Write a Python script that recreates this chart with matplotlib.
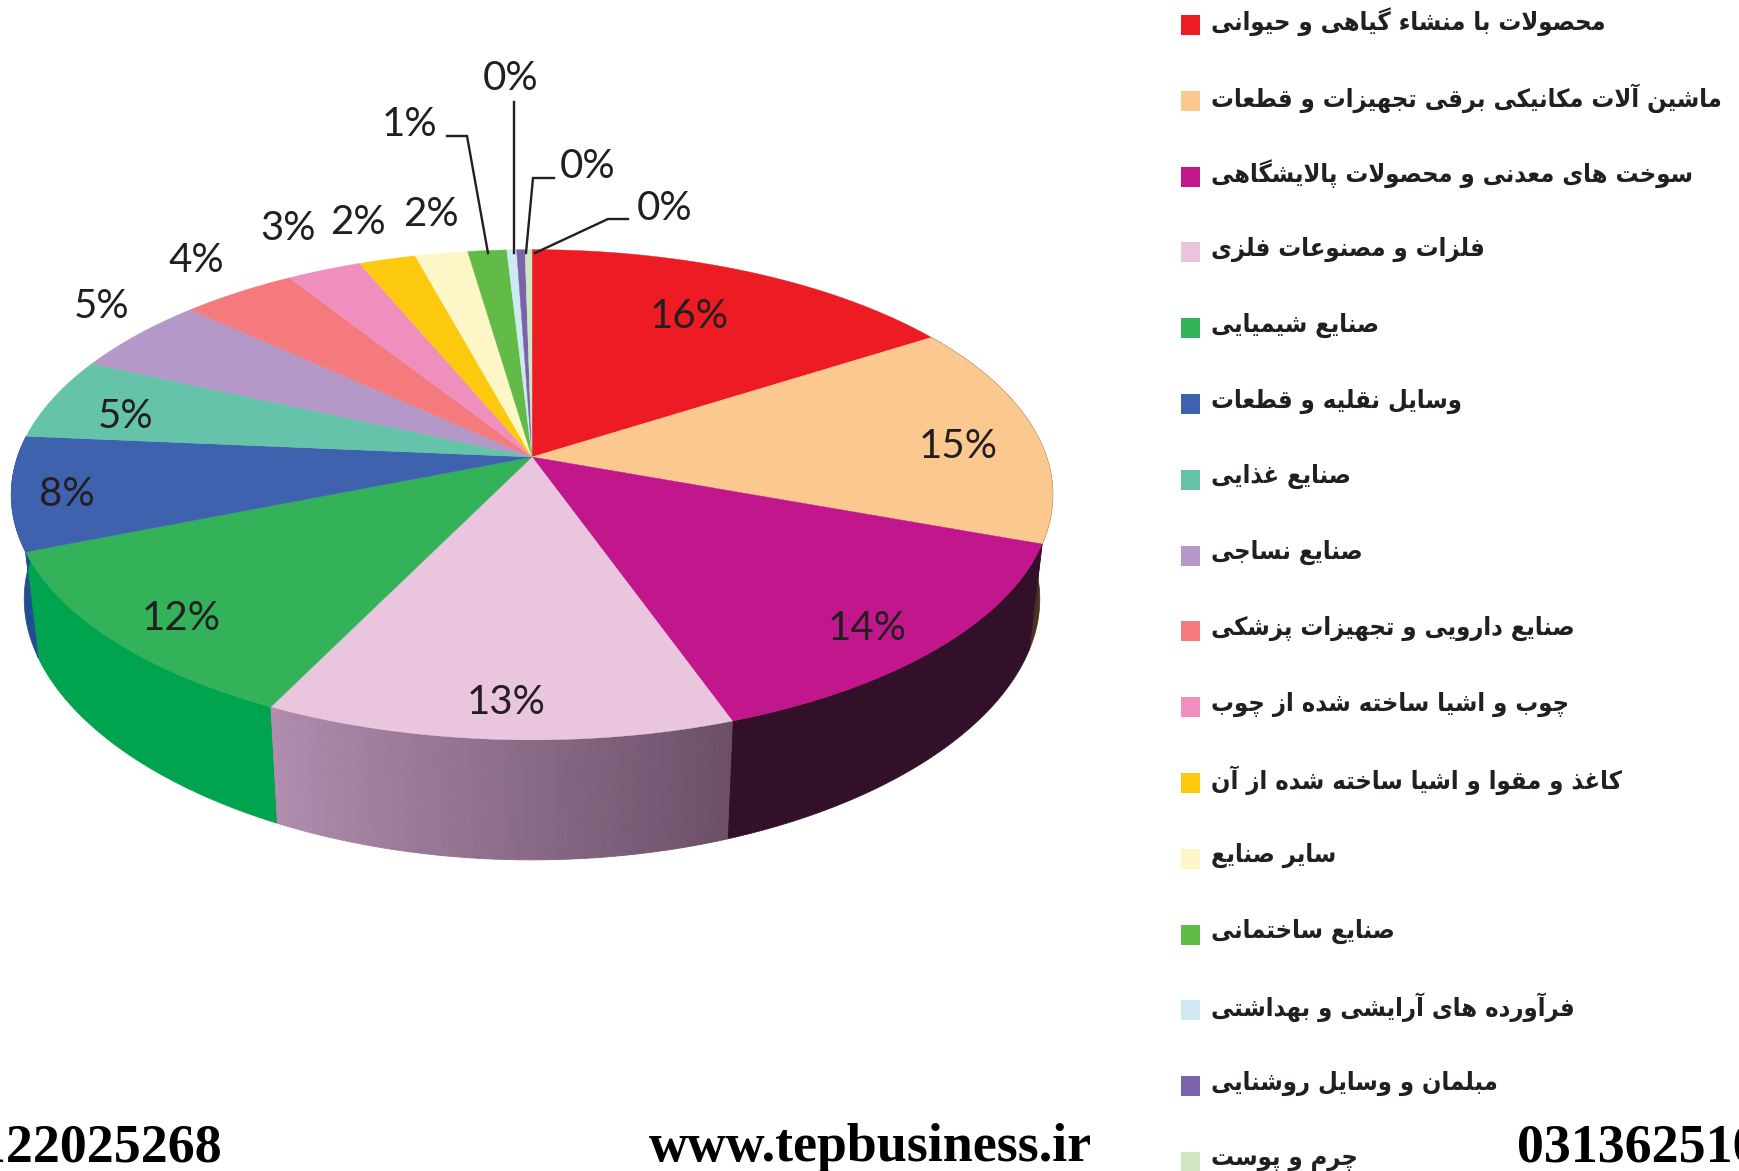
import numpy as np
import matplotlib
matplotlib.use('Agg')
import matplotlib.pyplot as plt
from matplotlib.patches import Rectangle

# slice values, clockwise from the top
values = [15.9, 14.7, 14.0, 12.6, 11.7, 7.5, 5.4, 5.1, 4.15, 2.7, 2.05, 1.9, 1.4, 0.35, 0.3, 0.25]
percent_labels = ['16%', '15%', '14%', '13%', '12%', '8%', '5%', '5%', '4%', '3%', '2%', '2%', '1%', '0%', '0%', '0%']
categories = ['محصولات با منشاء گیاهی و حیوانی',
              'ماشین آلات مکانیکی برقی تجهیزات و قطعات',
              'سوخت های معدنی و محصولات پالایشگاهی',
              'فلزات و مصنوعات فلزی',
              'صنایع شیمیایی',
              'وسایل نقلیه و قطعات',
              'صنایع غذایی',
              'صنایع نساجی',
              'صنایع دارویی و تجهیزات پزشکی',
              'چوب و اشیا ساخته شده از چوب',
              'کاغذ و مقوا و اشیا ساخته شده از آن',
              'سایر صنایع',
              'صنایع ساختمانی',
              'فرآورده های آرایشی و بهداشتی',
              'مبلمان و وسایل روشنایی',
              'چرم و پوست']
colors = ['#ed1c24', '#fbc990', '#c2168c', '#eac6de', '#33b25a', '#3f62ae', '#65c3a9', '#b398c8',
          '#f47a7e', '#f08fbe', '#fdc90f', '#fdf6c6', '#62bb46', '#cfe9f1', '#7c62a9', '#cfe6c0']
wall_colors = {1: '#4a3320', 2: '#33102a', 4: '#00a44f', 5: '#1f4f8f'}

# label centres in image pixels
label_x = [689, 958, 867, 506, 181, 67, 126, 102, 196, 288, 358, 431, 410, 511, 588, 665]
label_y = [317, 446, 628, 702, 618, 495, 416, 306, 261, 229, 222, 215, 124, 78, 166, 208]
leaders = {12: ([447, 467, 488], [136, 136, 253]),
           13: ([514, 514], [102, 253]),
           14: ([554, 533, 526], [178, 178, 253]),
           15: ([628, 608, 535], [219, 219, 253])}

# pie geometry, perspective squash of the unit disc
cx, cy = 532., 457.
rx, ry = 514.6, 239.3
persp = 0.154
wall_top, wall_curve = 104., 0.0002
wall_narrow = 0.975

dual = {'ب': 0xFE8F, 'ت': 0xFE95, 'ث': 0xFE99, 'ج': 0xFE9D, 'ح': 0xFEA1, 'خ': 0xFEA5, 'س': 0xFEB1,
        'ش': 0xFEB5, 'ص': 0xFEB9, 'ض': 0xFEBD, 'ط': 0xFEC1, 'ظ': 0xFEC5, 'ع': 0xFEC9, 'غ': 0xFECD,
        'ف': 0xFED1, 'ق': 0xFED5, 'ل': 0xFEDD, 'م': 0xFEE1, 'ن': 0xFEE5, 'ه': 0xFEE9,
        'پ': 0xFB56, 'چ': 0xFB7A, 'ک': 0xFB8E, 'گ': 0xFB92, 'ی': 0xFBFC}
right_only = {'ا': 0xFE8D, 'آ': 0xFE81, 'د': 0xFEA9, 'ذ': 0xFEAB, 'ر': 0xFEAD, 'ز': 0xFEAF,
              'ژ': 0xFB8A, 'و': 0xFEED}

def shape(s):
    # matplotlib does no arabic shaping, so pick the joined forms by hand
    s = s.replace('لا', '\uFFF0').replace('لآ', '\uFFF1')
    out = []
    for i, c in enumerate(s):
        before = s[i - 1] if i > 0 else ' '
        after = s[i + 1] if i < len(s) - 1 else ' '
        joins_prev = before in dual
        joins_next = after in dual or after in right_only or after in '\uFFF0\uFFF1'
        if c == '\uFFF0':
            out.append(chr(0xFEFC if joins_prev else 0xFEFB))
        elif c == '\uFFF1':
            out.append(chr(0xFEF6 if joins_prev else 0xFEF5))
        elif c in dual:
            form = {(0, 0): 0, (1, 0): 1, (0, 1): 2, (1, 1): 3}[(int(joins_prev), int(joins_next))]
            out.append(chr(dual[c] + form))
        elif c in right_only:
            out.append(chr(right_only[c] + (1 if joins_prev else 0)))
        elif c == 'ء':
            out.append(chr(0xFE80))
        else:
            out.append(c)
    return ''.join(out[::-1])

def rim(a):
    u, v = np.sin(a), np.cos(a)
    den = 1 + persp * v
    return cx + rx * u / den, cy - ry * v / den

def wall(x, y):
    xb = cx + (x - cx) * wall_narrow
    yb = y + wall_top + wall_curve * (y - cy) ** 2
    return np.r_[x, xb[::-1]], np.r_[y, yb[::-1]]

plt.rc('font', **{'family': 'sans-serif', 'sans-serif': ['Lato', 'DejaVu Sans'], 'size': 10})
fig = plt.figure(figsize = (17.39, 11.71), dpi = 100)
ax = fig.add_axes([0, 0, 1, 1])
ax.set_xlim(0, 1739)
ax.set_ylim(1171, 0)
ax.axis('off')

edges = np.cumsum([0] + values) / sum(values) * 2 * np.pi

# side walls first, the top faces cover the back ones
for i, col in wall_colors.items():
    x, y = rim(np.linspace(edges[i], edges[i + 1], 80))
    ax.fill(*wall(x, y), color = col, lw = 0.5)

# pale pink wall has a gradient
a = np.linspace(edges[3], edges[4], 121)
c0, c1 = np.array([0.42, 0.31, 0.41]), np.array([0.69, 0.55, 0.68])
for j in range(len(a) - 1):
    x, y = rim(a[j:j + 2])
    col = c0 + (c1 - c0) * j / (len(a) - 2)
    ax.fill(*wall(x, y), color = col, lw = 0.6)

# top faces
for i, col in enumerate(colors):
    a = np.linspace(edges[i], edges[i + 1], max(4, int(values[i] * 8)))
    x, y = rim(a)
    ax.fill(np.r_[cx, x], np.r_[cy, y], color = col, lw = 0.3)

for i, lab in enumerate(percent_labels):
    ax.text(label_x[i], label_y[i], lab, ha = 'center', va = 'center', fontsize = 29, color = '#231f20')

for i, (lx, ly) in leaders.items():
    ax.plot(lx, ly, color = '#231f20', lw = 1.7, solid_joinstyle = 'miter')

# legend
leg_y = 25 + 75.8 * np.arange(len(categories))
for i, name in enumerate(categories):
    ax.add_patch(Rectangle((1181, leg_y[i] - 10), 19, 20, color = colors[i], lw = 0))
    ax.text(1211, leg_y[i] - 3, shape(name), ha = 'left', va = 'center', fontsize = 18.3, color = '#231f20',
            family = 'DejaVu Sans', stretch = 'condensed', fontweight = 'bold')

# footer
foot = dict(family = 'Liberation Serif', fontweight = 'bold', fontsize = 38.8, color = 'k', va = 'baseline')
ax.text(222, 1161, '09122025268', ha = 'right', **foot)
ax.text(649, 1161, 'www.tepbusiness.ir', ha = 'left', **foot)
ax.text(1517, 1161, '03136251000', ha = 'left', **foot)

plt.savefig('out.png', dpi = 100)
